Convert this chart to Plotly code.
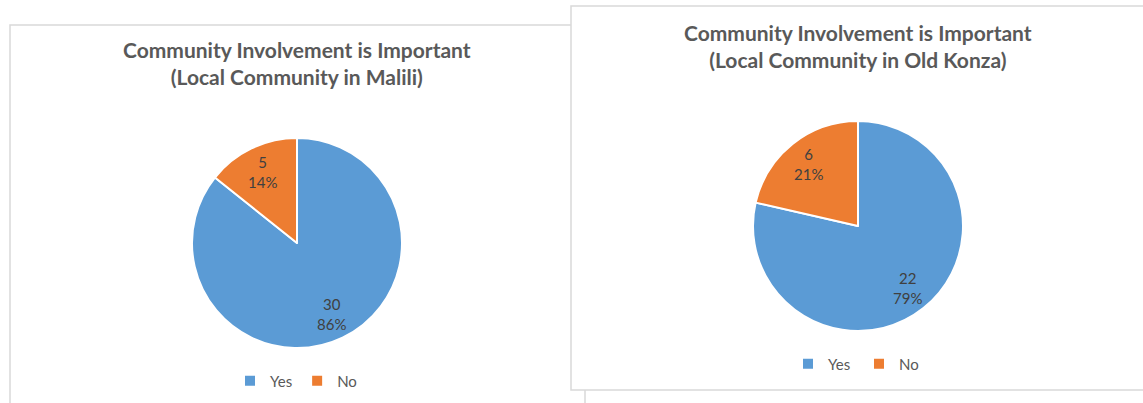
import math
import plotly.graph_objects as go

W, H = 1143, 403

# Survey responses
categories = ["Yes", "No"]
malili_counts = [30, 5]
konza_counts = [22, 6]
titles = [
    "Community Involvement is Important<br>(Local Community in Malili)",
    "Community Involvement is Important<br>(Local Community in Old Konza)",
]

colors = ["#5B9BD5", "#ED7D31"]
FONT = "Lato, 'Open Sans', sans-serif"
R = 105            # pie radius, px
LABEL_R = 0.75     # data labels sit at this fraction of the radius


def px_x(v):
    return v / W


def px_y(v):
    return 1 - v / H


def pie_domain(cx, cy, r):
    return dict(x=[px_x(cx - r), px_x(cx + r)], y=[px_y(cy + r), px_y(cy - r)])


fig = go.Figure()

panels = [
    dict(values=malili_counts, labels=categories, center=(297, 243), legend="legend"),
    # pie legend entries are keyed by label, so the second pie gets its own keys
    dict(values=konza_counts, labels=[c + " " for c in categories], center=(858, 226),
         legend="legend2"),
]

for p in panels:
    fig.add_trace(go.Pie(
        labels=p["labels"],
        values=p["values"],
        sort=False,
        direction="clockwise",
        rotation=0,
        marker=dict(colors=colors, line=dict(color="white", width=2)),
        textinfo="none",
        domain=pie_domain(p["center"][0], p["center"][1], R),
        legend=p["legend"],
        hoverinfo="label+value+percent",
    ))

    # value / percent labels placed along each slice's bisector
    total = sum(p["values"])
    start = 0.0
    cx, cy = p["center"]
    for v in p["values"]:
        frac = v / total
        mid = (start + frac / 2) * 2 * math.pi
        start += frac
        lx = cx + LABEL_R * R * math.sin(mid)
        ly = cy - LABEL_R * R * math.cos(mid)
        fig.add_annotation(text=f"{v}<br>{round(frac * 100)}%", xref="paper", yref="paper",
                           x=px_x(lx), y=px_y(ly), xanchor="center", yanchor="middle",
                           showarrow=False,
                           font=dict(family=FONT, size=15, color="#404040"))

# Chart panel frames: the second panel sits on top of the first
fig.add_shape(type="rect", xref="paper", yref="paper",
              x0=px_x(10), x1=px_x(585), y0=px_y(420), y1=px_y(25),
              line=dict(color="#D9D9D9", width=1.5), fillcolor="white", layer="below")
fig.add_shape(type="rect", xref="paper", yref="paper",
              x0=px_x(571), x1=px_x(1160), y0=px_y(390), y1=px_y(6),
              line=dict(color="#D9D9D9", width=1.5), fillcolor="white", layer="below")

for text, cx, cy in [(titles[0], 297, 63), (titles[1], 858, 46)]:
    fig.add_annotation(text="<b>" + text + "</b>", xref="paper", yref="paper",
                       x=px_x(cx), y=px_y(cy), xanchor="center", yanchor="middle",
                       showarrow=False, font=dict(family=FONT, size=21, color="#595959"))

legend_style = dict(orientation="h", xanchor="center", yanchor="middle",
                    font=dict(family=FONT, size=15, color="#595959"),
                    bgcolor="rgba(0,0,0,0)", itemwidth=30, tracegroupgap=0)
fig.update_layout(
    width=W, height=H,
    margin=dict(l=0, r=0, t=0, b=0),
    paper_bgcolor="white",
    showlegend=True,
    legend=dict(x=px_x(296), y=px_y(381), **legend_style),
    legend2=dict(x=px_x(858), y=px_y(364), **legend_style),
)

fig.write_html("out.html")
